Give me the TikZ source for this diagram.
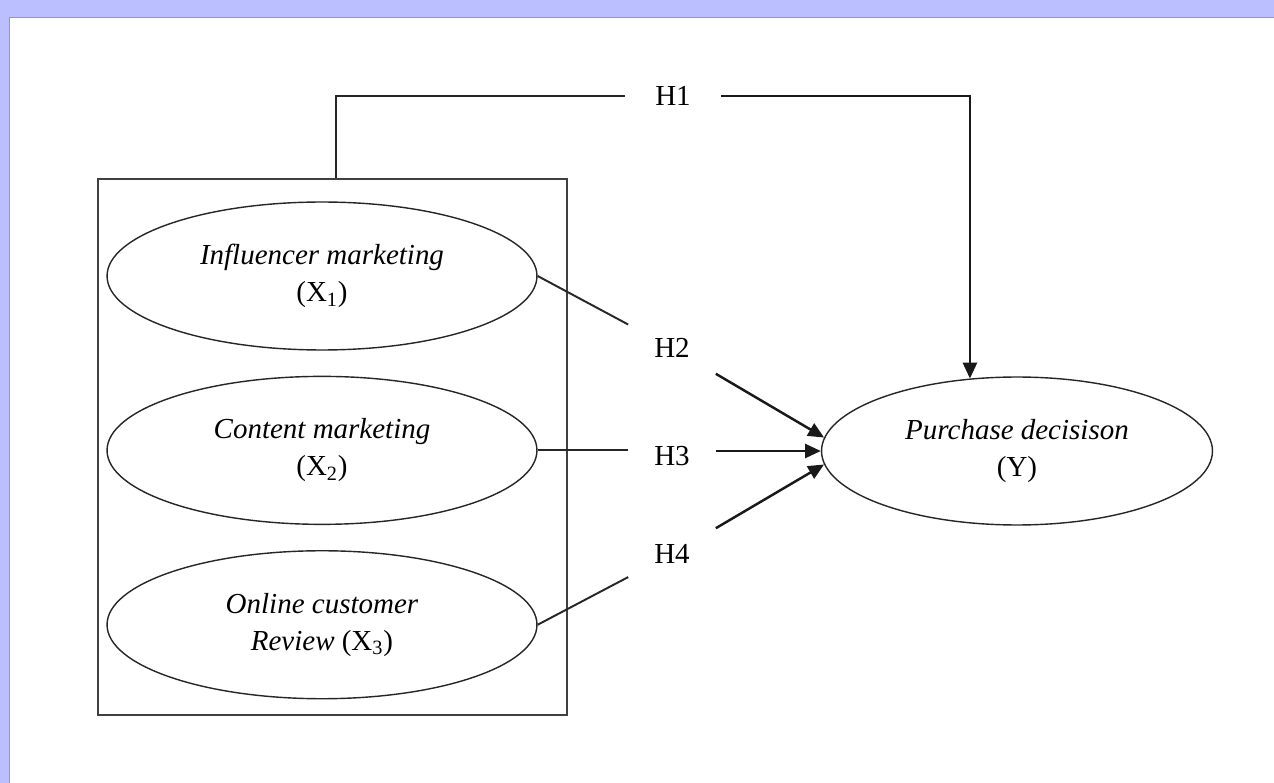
\documentclass[tikz,border=0pt]{standalone}
\usepackage{fontspec}
\setmainfont{Liberation Serif}
\usetikzlibrary{positioning,arrows.meta,shapes.geometric}
\definecolor{bandblue}{RGB}{187,191,255}

\begin{document}
\begin{tikzpicture}[
    x=0.02cm, y=-0.02cm,
    node distance=0.5cm,
    font=\fontsize{16.5}{21}\selectfont,
    construct/.style={
        ellipse,
        draw=black!85,
        line width=0.8pt,
        minimum width=8.6cm,
        minimum height=2.96cm,
        inner sep=0pt,
        align=center
    },
    hyp/.style={
        rectangle,
        inner sep=0pt,
        minimum width=1.74cm,
        minimum height=1.2cm
    },
    conn/.style={line width=1.1pt, black!85},
    arrow/.style={-{Triangle[length=9pt,width=8pt]}, line width=1.4pt, black!90}
]
\useasboundingbox (0,0) rectangle (1274,783);
\fill[bandblue] (0,0) rectangle (1274,783);
\fill[white] (9,17) rectangle (1274,783);
\draw[black!40, line width=0.5pt] (9,783) -- (9,17) -- (1274,17);

\node[draw=black!75, line width=1.1pt, minimum width=9.38cm, minimum height=10.72cm] (grp) at (332.5,447) {};
\node[construct] (x1) at (322,276) {\textit{Influencer marketing}\\(X\textsubscript{1})};
\node[construct, below=of x1] (x2) {\textit{Content marketing}\\(X\textsubscript{2})};
\node[construct, below=of x2] (x3) {\textit{Online customer}\\\textit{Review} (X\textsubscript{3})};
\node[construct, minimum width=7.82cm] (y) at (1017,451) {\textit{Purchase decisison}\\(Y)};

\node[hyp, minimum width=1.9cm] (h1) at (673,96) {H1};
\node[hyp] (h2) at (672,348) {H2};
\node[hyp] (h3) at (672,456) {H3};
\node[hyp] (h4) at (672,554) {H4};

\draw[conn] (grp.north) ++(3.5,0) |- (h1.west);
\draw[arrow] (h1.east) -| (y.123);
\draw[conn] (x1.east) -- (h2);
\draw[arrow] (h2) -- (y.176);
\draw[conn] (x2.east) -- (x2.east -| h3.west);
\draw[arrow] (h3.east |- y.west) -- (y.west);
\draw[conn] (x3.east) -- (h4);
\draw[arrow] (h4) -- (y.184);
\end{tikzpicture}
\end{document}
